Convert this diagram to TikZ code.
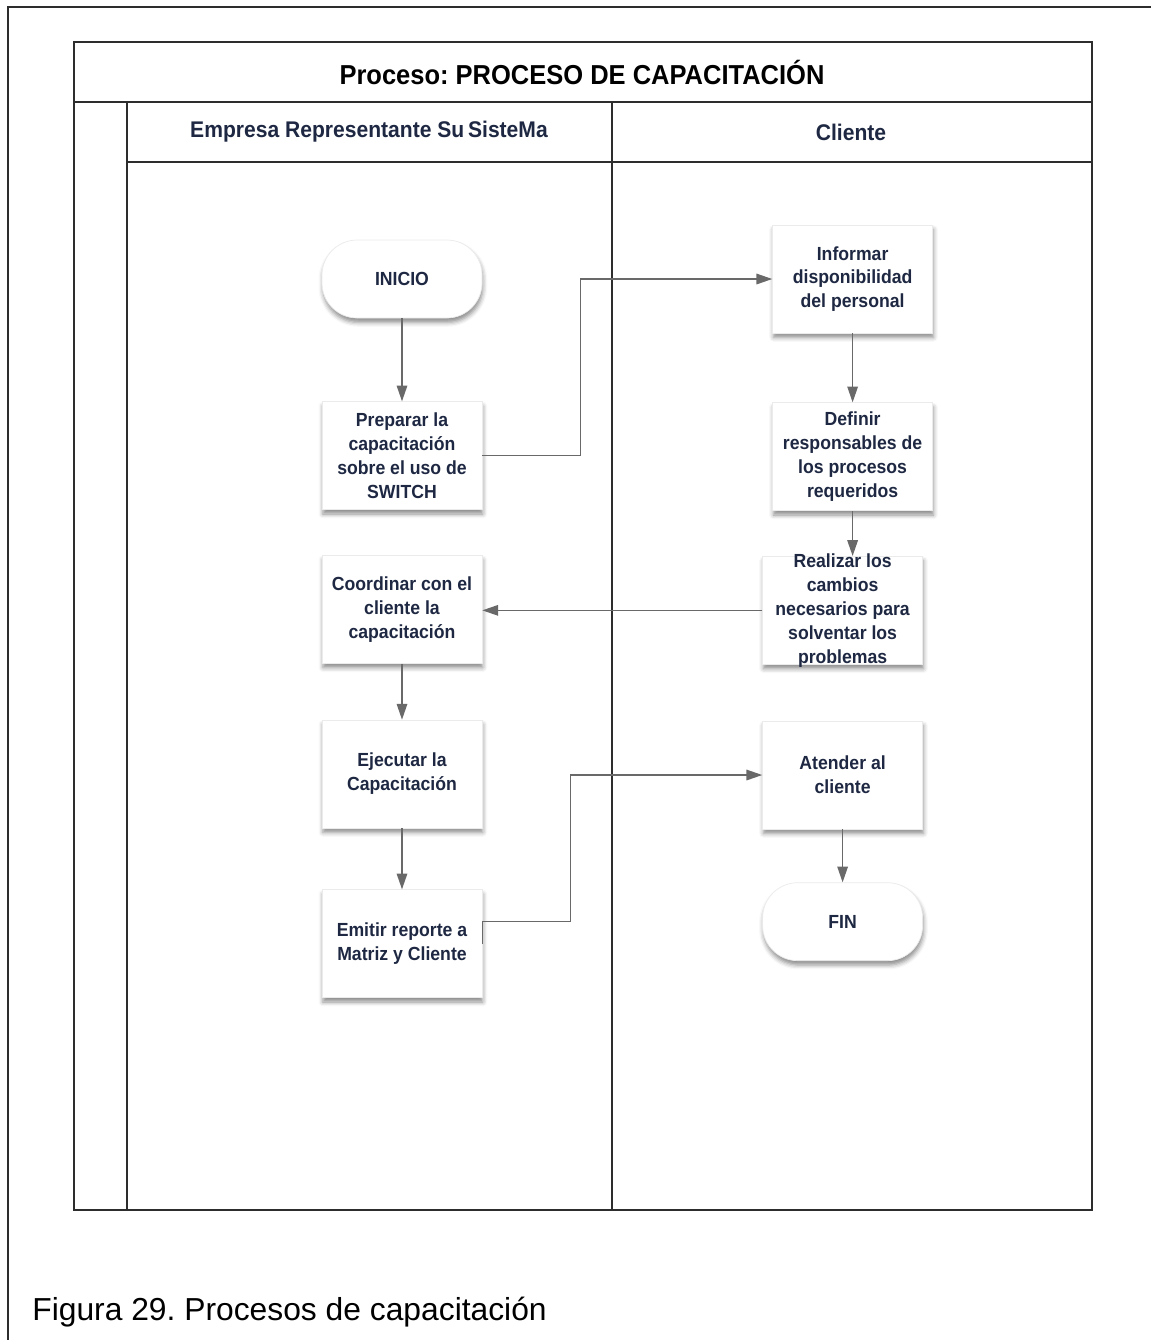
\documentclass[tikz,border=0pt]{standalone}
\usepackage{fontspec}
\setmainfont{Liberation Sans}
\newfontfamily\flowfont[FakeStretch=0.93]{Liberation Sans}
\usetikzlibrary{positioning,arrows.meta,shadows.blur}
\frenchspacing

\definecolor{navytext}{RGB}{30,40,66}
\definecolor{flowgray}{RGB}{105,105,105}
\definecolor{poolline}{RGB}{45,45,45}

\tikzset{
  activity/.style={rectangle, fill=white, draw=black!8, minimum width=3.2cm,
    minimum height=2.16cm, align=center, text=navytext,
    font=\flowfont\bfseries\fontsize{10.8}{13.6}\selectfont,
    blur shadow={shadow xshift=0.5pt, shadow yshift=-2.5pt,
      shadow blur radius=2.5pt, shadow opacity=45}},
  terminal/.style={activity, minimum height=1.56cm, rounded corners=20pt},
  flow/.style={draw=flowgray, line width=0.8pt, -{Triangle[length=9pt,width=6pt]}},
  lane/.style={draw=poolline, line width=0.8pt},
  pooltitle/.style={font=\flowfont\bfseries\fontsize{15.6}{18}\selectfont, text=black},
  lanehead/.style={font=\flowfont\bfseries\fontsize{12.9}{15}\selectfont, text=navytext},
}

\begin{document}
\begin{tikzpicture}[x=0.02cm,y=-0.02cm]
  \useasboundingbox (0,0) rectangle (1151,1340);

  % Page frame and pool

  \draw[lane] (8,1340) -- (8,7) -- (1151,7);
  \draw[lane] (74,42) rectangle (1092,1210);
  \draw[lane] (74,102) -- (1092,102);
  \draw[lane] (127,162) -- (1092,162);
  \draw[lane] (127,102) -- (127,1210);
  \draw[lane] (612,102) -- (612,1210);

  \node[pooltitle] (title) at (582,72) {Proceso: PROCESO DE CAPACITACIÓN};
  \node[lanehead] (lane_emp) at (369,132) {Empresa Representante Su\,SisteMa};
  \node[lanehead] (lane_cli) at (851,132) {Cliente};

  % Nodes

  \node[terminal] (inicio) at (402,279) {INICIO};
  \node[activity,below=1.66cm of inicio] (preparar) {Preparar la\\capacitación\\sobre el uso de\\SWITCH};
  \node[activity,below=0.9cm of preparar] (coordinar) {Coordinar con el\\cliente la\\capacitación};
  \node[activity,below=1.12cm of coordinar] (ejecutar) {Ejecutar la\\Capacitación};
  \node[activity,below=1.22cm of ejecutar] (emitir) {Emitir reporte a\\Matriz y Cliente};

  \node[activity,right=5.8cm of inicio] (informar) {Informar\\disponibilidad\\del personal};
  \node[activity,below=1.38cm of informar] (definir) {Definir\\responsables de\\los procesos\\requeridos};
  \node[activity,below=0.9cm of definir,xshift=-0.2cm,inner ysep=-1.6pt] (realizar) {Realizar los\\cambios\\necesarios para\\solventar los\\problemas};
  \node[activity,below=1.12cm of realizar] (atender) {Atender al\\cliente};
  \node[terminal,below=1.06cm of atender] (fin) {FIN};

  \node[anchor=west, inner sep=0pt, font=\fontsize{18.1}{22}\selectfont] (caption) at (32,1312) {Figura 29. Procesos de capacitación};

  % Edges

  \draw[flow] (inicio) -- (preparar);
  \draw[flow] (preparar.east) -- ++(1.96cm,0) |- (informar.west);
  \draw[flow] (informar) -- (definir);
  \draw[flow] (definir.south) -- (definir.south |- realizar.north);
  \draw[flow] (realizar.west) -- (realizar.west -| coordinar.east);
  \draw[flow] (coordinar) -- (ejecutar);
  \draw[flow] (ejecutar) -- (emitir);
  \draw[flow] (emitir.east) -- ++(0,0.44cm) -- ++(1.76cm,0) |- (atender.west);
  \draw[flow] (atender) -- (fin);

\end{tikzpicture}
\end{document}
